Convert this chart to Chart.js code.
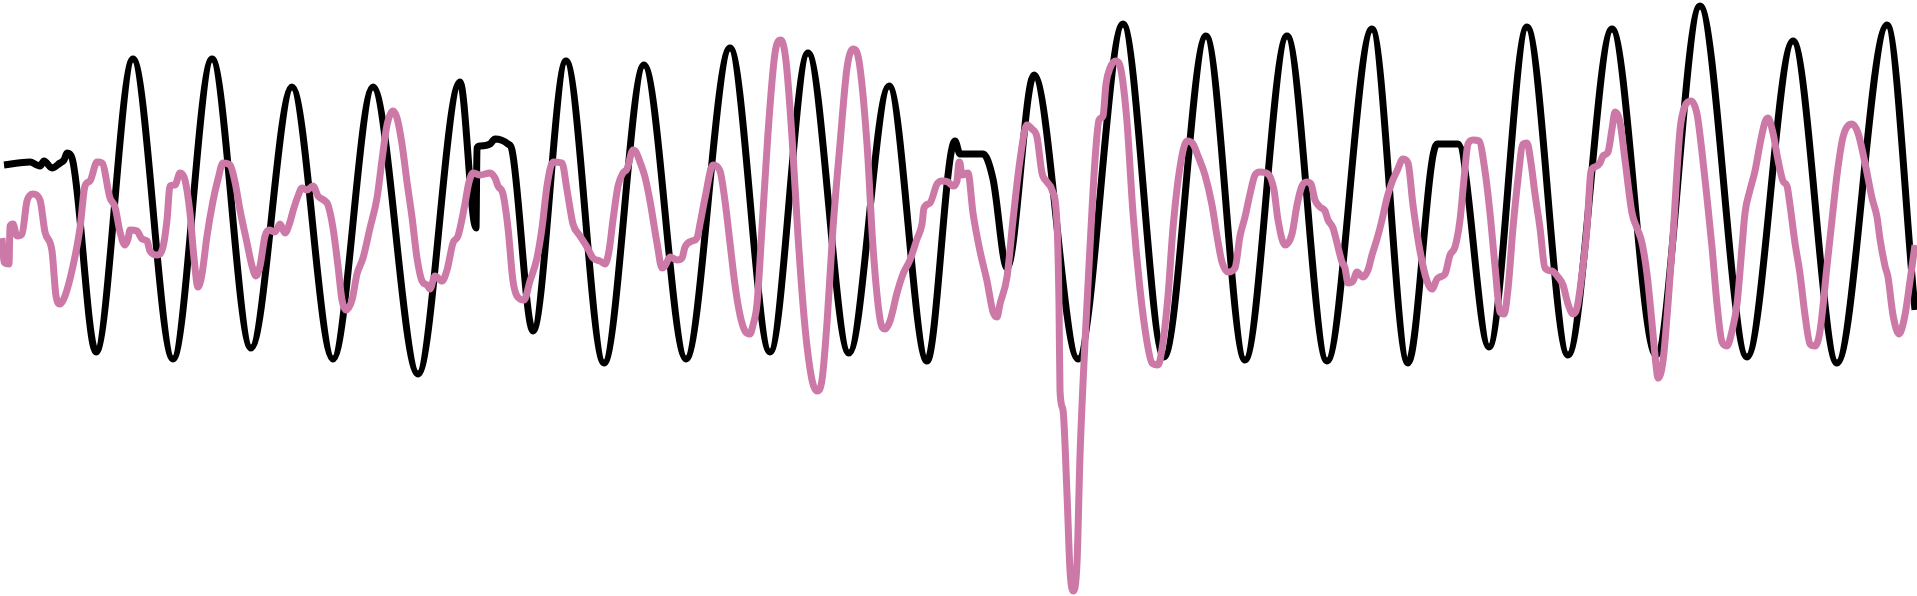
<!DOCTYPE html>
<html>
<head>
<meta charset="utf-8">
<script src="https://cdn.jsdelivr.net/npm/chart.js@4"></script>
<style>
  html, body { margin: 0; padding: 0; background: #fff; overflow: hidden; }
  #wrap { position: relative; width: 1917px; height: 596px; }
</style>
</head>
<body>
<div id="wrap"><canvas id="wave"></canvas></div>
<script>
// time (s) and amplitude
const timeRange = [0, 19.17];
const ampRange = [-2.98, 2.98];

const blackTime = [0.04, 0.30, 0.37, 0.40, 0.44, 0.52, 0.60, 0.64, 0.67, 0.72,
  0.96, 1.33, 1.73, 2.12, 2.51, 2.92, 3.33, 3.73, 4.18, 4.60, 4.76, 4.77, 4.80, 4.90, 4.95, 5.08, 5.12,
  5.33, 5.66, 6.04, 6.44, 6.86, 7.30, 7.70, 8.08, 8.49, 8.89, 9.27, 9.55, 9.60, 9.83, 9.93,
  10.07, 10.34, 10.78, 11.23, 11.64, 12.06, 12.45, 12.87, 13.27, 13.72, 14.08, 14.37, 14.42, 14.58,
  14.89, 15.27, 15.68, 16.12, 16.56, 17.00, 17.47, 17.93, 18.37, 18.87, 19.15];
const blackAmp = [1.33, 1.36, 1.33, 1.32, 1.37, 1.30, 1.35, 1.38, 1.45, 1.40,
  -0.54, 2.39, -0.61, 2.39, -0.50, 2.11, -0.61, 2.11, -0.76, 2.16, 0.70, 1.50, 1.52, 1.54, 1.59, 1.54, 1.48,
  -0.33, 2.37, -0.65, 2.33, -0.61, 2.50, -0.54, 2.45, -0.55, 2.12, -0.63, 1.57, 1.44, 1.44, 1.19,
  0.30, 2.23, -0.61, 2.74, -0.59, 2.62, -0.62, 2.62, -0.63, 2.69, -0.65, 1.54, 1.54, 1.54,
  -0.49, 2.71, -0.57, 2.69, -0.57, 2.92, -0.59, 2.57, -0.65, 2.73, -0.12];

const pinkTime = [0.02, 0.04, 0.09, 0.10, 0.13, 0.17, 0.22, 0.27, 0.33, 0.40, 0.45, 0.52, 0.56, 0.60, 0.65,
  0.73, 0.80, 0.85, 0.90, 0.97, 1.02, 1.10, 1.15, 1.20, 1.25, 1.28, 1.30, 1.37, 1.42, 1.47, 1.50, 1.57,
  1.63, 1.67, 1.70, 1.75, 1.80, 1.85, 1.90, 1.94, 1.98, 2.02, 2.07, 2.13, 2.18, 2.23, 2.30, 2.35, 2.40,
  2.47, 2.52, 2.56, 2.60, 2.65, 2.69, 2.75, 2.80, 2.85, 2.90, 2.93, 2.98, 3.02, 3.07, 3.13, 3.18, 3.25,
  3.28, 3.33, 3.38, 3.42, 3.46, 3.52, 3.57, 3.63, 3.70, 3.77, 3.82, 3.87, 3.93, 3.97, 4.02, 4.07, 4.12,
  4.17, 4.22, 4.27, 4.30, 4.35, 4.42, 4.47, 4.53, 4.58, 4.64, 4.69, 4.73, 4.80, 4.90, 4.95, 4.98, 5.03,
  5.08, 5.13, 5.17, 5.24, 5.30, 5.37, 5.42, 5.47, 5.53, 5.62, 5.67, 5.73, 5.80, 5.87, 5.93, 6.00, 6.05,
  6.09, 6.13, 6.18, 6.23, 6.27, 6.33, 6.36, 6.40, 6.45, 6.50, 6.57, 6.62, 6.65, 6.70, 6.77, 6.82, 6.85,
  6.92, 6.97, 7.00, 7.05, 7.13, 7.20, 7.25, 7.30, 7.35, 7.40, 7.45, 7.50, 7.53, 7.57, 7.62, 7.68, 7.75,
  7.81, 7.86, 7.92, 7.98, 8.05, 8.12, 8.17, 8.22, 8.27, 8.33, 8.40, 8.47, 8.53, 8.59, 8.67, 8.73, 8.80,
  8.85, 8.90, 8.97, 9.03, 9.10, 9.17, 9.22, 9.24, 9.30, 9.37, 9.42, 9.48, 9.53, 9.57, 9.59, 9.60, 9.62,
  9.68, 9.73, 9.80, 9.87, 9.93, 9.97, 10.00, 10.07, 10.13, 10.20, 10.27, 10.32, 10.37, 10.42, 10.47,
  10.52, 10.57, 10.59, 10.60, 10.63, 10.67, 10.70, 10.73, 10.77, 10.80, 10.85, 10.90, 10.95, 10.99,
  11.03, 11.06, 11.10, 11.16, 11.21, 11.27, 11.33, 11.40, 11.47, 11.52, 11.58, 11.63, 11.68, 11.73,
  11.80, 11.87, 11.93, 11.98, 12.05, 12.12, 12.17, 12.22, 12.28, 12.35, 12.40, 12.45, 12.50, 12.55,
  12.60, 12.68, 12.74, 12.78, 12.85, 12.92, 12.97, 13.02, 13.07, 13.11, 13.15, 13.20, 13.25, 13.28,
  13.33, 13.37, 13.42, 13.45, 13.48, 13.53, 13.57, 13.63, 13.68, 13.72, 13.77, 13.82, 13.87, 13.92,
  13.97, 14.03, 14.08, 14.13, 14.20, 14.27, 14.32, 14.37, 14.40, 14.45, 14.50, 14.55, 14.60, 14.64,
  14.68, 14.73, 14.79, 14.85, 14.90, 14.95, 15.00, 15.04, 15.08, 15.13, 15.18, 15.23, 15.27, 15.31,
  15.35, 15.40, 15.45, 15.52, 15.58, 15.63, 15.68, 15.73, 15.77, 15.82, 15.87, 15.91, 15.95, 16.00,
  16.03, 16.08, 16.12, 16.15, 16.20, 16.25, 16.32, 16.37, 16.42, 16.47, 16.52, 16.56, 16.58, 16.63,
  16.68, 16.73, 16.80, 16.85, 16.91, 16.97, 17.02, 17.07, 17.12, 17.17, 17.22, 17.27, 17.32, 17.37,
  17.42, 17.45, 17.50, 17.55, 17.60, 17.65, 17.68, 17.73, 17.78, 17.83, 17.87, 17.90, 17.95, 18.00,
  18.05, 18.10, 18.15, 18.20, 18.27, 18.32, 18.37, 18.43, 18.52, 18.58, 18.65, 18.72, 18.77, 18.80,
  18.85, 18.88, 18.93, 18.99, 19.05, 19.10, 19.15];
const pinkAmp = [0.60, 0.36, 0.34, 0.72, 0.74, 0.62, 0.64, 0.97, 1.04, 0.98, 0.66, 0.47, 0.02, -0.06, 0.02,
  0.32, 0.70, 1.12, 1.17, 1.36, 1.35, 1.00, 0.91, 0.66, 0.53, 0.59, 0.68, 0.67, 0.59, 0.57, 0.47, 0.43,
  0.51, 0.78, 1.12, 1.13, 1.25, 1.18, 0.85, 0.40, 0.11, 0.24, 0.62, 0.97, 1.19, 1.35, 1.33, 1.16, 0.88,
  0.55, 0.32, 0.22, 0.32, 0.62, 0.68, 0.66, 0.74, 0.65, 0.76, 0.87, 1.02, 1.10, 1.08, 1.12, 1.02, 0.97,
  0.93, 0.70, 0.32, -0.02, -0.12, -0.02, 0.24, 0.40, 0.70, 1.00, 1.38, 1.73, 1.87, 1.80, 1.54, 1.16, 0.81,
  0.40, 0.17, 0.13, 0.09, 0.22, 0.17, 0.28, 0.55, 0.62, 0.89, 1.16, 1.25, 1.23, 1.25, 1.20, 1.12, 1.04,
  0.70, 0.17, 0.02, -0.02, 0.17, 0.40, 0.70, 1.12, 1.36, 1.35, 1.08, 0.74, 0.62, 0.51, 0.40, 0.37, 0.34,
  0.47, 0.78, 1.12, 1.25, 1.29, 1.48, 1.46, 1.36, 1.21, 0.97, 0.55, 0.30, 0.32, 0.41, 0.38, 0.40, 0.51,
  0.57, 0.60, 0.74, 1.00, 1.33, 1.27, 0.97, 0.55, 0.13, -0.17, -0.33, -0.36, -0.27, -0.06, 0.70, 1.65, 2.45,
  2.58, 2.37, 1.61, 0.62, -0.29, -0.82, -0.93, -0.82, -0.25, 0.70, 1.54, 2.30, 2.49, 2.37, 1.54, 0.51, -0.21,
  -0.31, -0.23, 0.05, 0.24, 0.38, 0.59, 0.74, 0.90, 0.95, 1.14, 1.17, 1.16, 1.12, 1.17, 1.36, 1.35, 1.23,
  1.25, 0.85, 0.47, 0.17, -0.14, -0.19, -0.06, 0.21, 0.78, 1.38, 1.73, 1.69, 1.61, 1.25, 1.16,
  1.08, 0.74, -0.06, -0.93, -1.12, -1.96, -2.72, -2.93, -2.65, -1.58, -0.44, 0.51, 1.38, 1.78,
  1.82, 2.14, 2.30, 2.37, 2.28, 1.76, 0.85, 0.09, -0.44, -0.65, -0.67, -0.44, 0.02, 0.70,
  1.31, 1.57, 1.54, 1.42, 1.23, 0.93, 0.62, 0.36, 0.26, 0.30, 0.62, 0.81, 1.04, 1.23,
  1.26, 1.24, 1.08, 0.78, 0.53, 0.64, 0.93, 1.12, 1.16, 1.14, 0.98, 0.91, 0.87, 0.78,
  0.70, 0.55, 0.36, 0.30, 0.15, 0.17, 0.26, 0.21, 0.28, 0.43, 0.59, 0.78, 1.00, 1.16,
  1.27, 1.39, 1.35, 0.93, 0.47, 0.17, 0.09, 0.19, 0.21, 0.24, 0.43, 0.51, 0.78, 1.19,
  1.54, 1.58, 1.57, 1.27, 0.85, 0.32, -0.14, -0.16, 0.09, 0.70, 1.19, 1.54, 1.55, 1.35,
  1.04, 0.70, 0.30, 0.27, 0.21, 0.13, -0.06, -0.16, -0.10, 0.24, 0.70, 1.27, 1.31, 1.35,
  1.42, 1.46, 1.69, 1.86, 1.76, 1.38, 0.85, 0.70, 0.55, 0.24, -0.25, -0.67, -0.80, -0.63,
  -0.06, 0.62, 1.68, 1.92, 1.97, 1.84, 1.46, 1.00, 0.51, -0.06, -0.44, -0.48, -0.33, -0.06,
  0.51, 0.85, 1.08, 1.27, 1.54, 1.76, 1.80, 1.65, 1.38, 1.17, 1.12, 0.93, 0.55, 0.24,
  -0.17, -0.46, -0.48, -0.33, 0.32, 0.78, 1.23, 1.61, 1.74, 1.65, 1.35, 1.00, 0.81, 0.59,
  0.32, 0.21, -0.17, -0.36, -0.17, 0.17, 0.53];

const toPoints = (ts, vs) => ts.map((t, i) => ({ x: t, y: vs[i] }));

new Chart(document.getElementById("wave"), {
  type: "line",
  data: {
    datasets: [
      {
        label: "pink",
        data: toPoints(pinkTime, pinkAmp),
        borderColor: "#cc79a7",
        borderWidth: 7,
        order: 0,
      },
      {
        label: "black",
        data: toPoints(blackTime, blackAmp),
        borderColor: "#000000",
        borderWidth: 7,
        order: 1,
      },
    ],
  },
  options: {
    responsive: true,
    maintainAspectRatio: false,
    animation: false,
    parsing: false,
    layout: { padding: 0 },
    elements: {
      point: { radius: 0, hoverRadius: 0 },
      line: { cubicInterpolationMode: "monotone", borderJoinStyle: "round", fill: false },
    },
    plugins: { legend: { display: false }, tooltip: { enabled: false } },
    scales: {
      x: { type: "linear", min: timeRange[0], max: timeRange[1], display: false },
      y: { type: "linear", min: ampRange[0], max: ampRange[1], display: false },
    },
  },
});
</script>
</body>
</html>
